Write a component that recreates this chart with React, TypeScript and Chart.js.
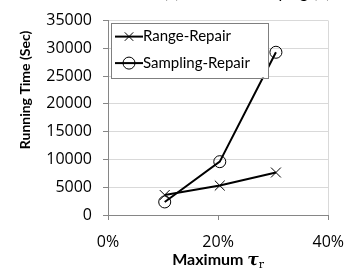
import { useEffect, useRef } from "react";
import { Chart, registerables } from "chart.js";
Chart.register(...registerables);

const maxTau = [10.3, 20.3, 30.5];
const rangeRepair = [3600, 5300, 7650];
const samplingRepair = [2350, 9600, 29300];
const xTickValues = [0, 20, 40];
const seriesNames = ["Range-Repair", "Sampling-Repair"];
const seriesMarkers = ["crossRot", "circle"];
const yTitle = "Running Time (Sec)";
const xTitleWord = "Maximum ";
const xTitleSymbol = "τ";
const xTitleSub = "r";
const topCaption = "(a) Effect of Varying (b)";

const FONT = "Lato, 'Open Sans', sans-serif";
const TICK_FONT = "'Open Sans', Lato, sans-serif";

function drawMarker(ctx: CanvasRenderingContext2D, style: string, x: number, y: number, r: number) {
  ctx.beginPath();
  if (style === "circle") {
    ctx.arc(x, y, r, 0, Math.PI * 2);
  } else {
    const d = r * Math.SQRT1_2;
    ctx.moveTo(x - d, y - d);
    ctx.lineTo(x + d, y + d);
    ctx.moveTo(x - d, y + d);
    ctx.lineTo(x + d, y - d);
  }
  ctx.stroke();
}

const textPlugin = {
  id: "texts",
  afterDraw(chart: any) {
    const { ctx, chartArea } = chart;
    ctx.save();
    ctx.fillStyle = "#000";
    // top caption (cut off at the top edge)
    ctx.font = `17px ${FONT}`;
    ctx.textAlign = "center";
    ctx.textBaseline = "alphabetic";
    ctx.fillText(topCaption, 247, -2.5);
    // y title
    ctx.save();
    ctx.translate(25, 90);
    ctx.rotate(-Math.PI / 2);
    ctx.font = `bold 14px ${FONT}`;
    ctx.textAlign = "center";
    ctx.textBaseline = "middle";
    ctx.fillText(yTitle, 0, 0);
    ctx.restore();
    // x title
    const f1 = `bold 16px ${FONT}`;
    const f2 = `italic bold 17px 'DejaVu Serif', serif`;
    const f3 = `11px 'DejaVu Serif', serif`;
    ctx.font = f1;
    const w1 = ctx.measureText(xTitleWord).width;
    ctx.font = f2;
    const w2 = ctx.measureText(xTitleSymbol).width;
    ctx.font = f3;
    const w3 = ctx.measureText(xTitleSub).width;
    const cx = (chartArea.left + chartArea.right) / 2;
    let x = cx - (w1 + w2 + w3) / 2;
    const base = 265;
    ctx.textAlign = "left";
    ctx.textBaseline = "alphabetic";
    ctx.font = f1;
    ctx.fillText(xTitleWord, x, base);
    x += w1;
    ctx.font = f2;
    ctx.fillText(xTitleSymbol, x, base);
    x += w2;
    ctx.font = f3;
    ctx.fillText(xTitleSub, x, base + 3);
    // legend
    const x0 = chartArea.left + 3;
    const y0 = chartArea.top + 2;
    const w = 157;
    const h = 55;
    ctx.fillStyle = "#fff";
    ctx.fillRect(x0, y0, w, h);
    ctx.strokeStyle = "#7f7f7f";
    ctx.lineWidth = 1;
    ctx.strokeRect(Math.round(x0) + 0.5, Math.round(y0) + 0.5, w, h);
    chart.data.datasets.forEach((ds: any, i: number) => {
      const cy = y0 + 14 + i * 26.5;
      ctx.strokeStyle = "#000";
      ctx.lineWidth = 2;
      ctx.beginPath();
      ctx.moveTo(x0 + 4, cy);
      ctx.lineTo(x0 + 32, cy);
      ctx.stroke();
      ctx.lineWidth = 1;
      drawMarker(ctx, seriesMarkers[i], x0 + 18, cy, 6);
      ctx.fillStyle = "#000";
      ctx.font = `15px ${FONT}`;
      ctx.textAlign = "left";
      ctx.textBaseline = "middle";
      ctx.fillText(ds.label, x0 + 32, cy);
    });
    ctx.restore();
  },
};

export default function App() {
  const ref = useRef<HTMLCanvasElement>(null);
  useEffect(() => {
    const mk = (i: number, ys: number[]) => ({
      label: seriesNames[i],
      data: maxTau.map((x, j) => ({ x, y: ys[j] })),
      showLine: true,
      borderColor: "#000",
      borderWidth: 2,
      pointStyle: seriesMarkers[i],
      pointRadius: i === 0 ? 7 : 6,
      pointBorderWidth: 1,
      pointBorderColor: "#000",
      pointBackgroundColor: "rgba(0,0,0,0)",
    });
    const chart = new Chart(ref.current!, {
      type: "scatter",
      data: { datasets: [mk(0, rangeRepair), mk(1, samplingRepair)] as any },
      options: {
        animation: false,
        responsive: false,
        layout: { padding: { left: 0, right: 14, top: 11, bottom: 1 } },
        plugins: { legend: { display: false }, tooltip: { enabled: false } },
        scales: {
          x: {
            type: "linear",
            min: 0,
            max: 40,
            afterBuildTicks: (s: any) => {
              s.ticks = xTickValues.map((v) => ({ value: v }));
            },
            ticks: {
              callback: (v: any) => v + "%",
              font: { family: TICK_FONT, size: 16 },
              color: "#000",
              padding: 13,
              maxRotation: 0,
            },
            grid: {
              color: (c: any) => (c.tick && c.tick.value === 40 ? "#d9d9d9" : "rgba(0,0,0,0)"),
              tickColor: "#868686",
              tickLength: 5,
            },
            border: { color: "#868686", width: 1 },
            afterFit: (s: any) => {
              s.height = 54;
            },
          },
          y: {
            min: 0,
            max: 35000,
            ticks: {
              stepSize: 5000,
              callback: (v: any) => String(v),
              font: { family: TICK_FONT, size: 16 },
              color: "#000",
              padding: 11,
            },
            grid: { color: "#d9d9d9", tickColor: "#868686", tickLength: 5 },
            border: { color: "#868686", width: 1 },
            afterFit: (s: any) => {
              s.width = 108;
            },
          },
        },
      } as any,
      plugins: [textPlugin],
    });
    return () => chart.destroy();
  }, []);
  return (
    <div style={{ position: "fixed", left: 0, top: 0, width: 357, height: 270, background: "#fff" }}>
      <canvas ref={ref} width={357} height={270} style={{ width: 357, height: 270, display: "block" }} />
    </div>
  );
}
